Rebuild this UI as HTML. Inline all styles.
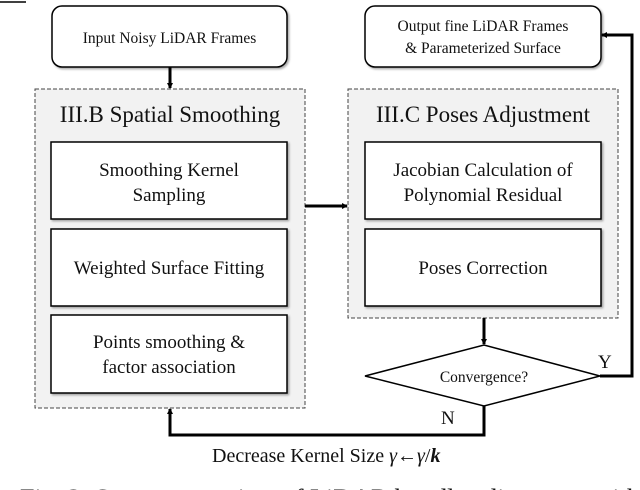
<!DOCTYPE html>
<html><head><style>
html,body{margin:0;padding:0;background:#fff;overflow:hidden;}
svg{display:block;}
text{font-family:"Liberation Serif",serif;fill:#111;}
</style></head><body>
<svg width="640" height="490" viewBox="0 0 640 490" xmlns="http://www.w3.org/2000/svg">
<defs>
<marker id="a" markerWidth="6" markerHeight="6" refX="5" refY="3" orient="auto" markerUnits="userSpaceOnUse"><path d="M0,0 L6,3 L0,6 z" fill="#000"/></marker>
<filter id="s" x="-5%" y="-5%" width="110%" height="115%"><feDropShadow dx="1.5" dy="1.5" stdDeviation="1" flood-opacity="0.35"/></filter>
</defs>
<line x1="0" y1="2" x2="26" y2="2" stroke="#000" stroke-width="1.5"/>
<rect x="52" y="6" width="235" height="61" rx="10" fill="#fff" stroke="#000" stroke-width="1.5" filter="url(#s)"/>
<text x="169.5" y="43" font-size="15.5" text-anchor="middle">Input Noisy LiDAR Frames</text>
<line x1="170" y1="67" x2="170" y2="88" stroke="#000" stroke-width="3" marker-end="url(#a)"/>
<rect x="365" y="6" width="236" height="61" rx="10" fill="#fff" stroke="#000" stroke-width="1.5" filter="url(#s)"/>
<text x="483" y="31" font-size="15.5" text-anchor="middle">Output fine LiDAR Frames</text>
<text x="483" y="53" font-size="15.5" text-anchor="middle">&amp; Parameterized Surface</text>
<rect x="35" y="89" width="270" height="319" fill="#f2f2f2" stroke="#444" stroke-width="1" stroke-dasharray="4,2"/>
<text x="170" y="122" font-size="23" text-anchor="middle">III.B Spatial Smoothing</text>
<g fill="#fff" stroke="#000" stroke-width="1.5" filter="url(#s)">
<rect x="51" y="142" width="236" height="77"/>
<rect x="51" y="229" width="236" height="77"/>
<rect x="51" y="315" width="236" height="78"/>
</g>
<g font-size="19" text-anchor="middle">
<text x="169" y="176">Smoothing Kernel</text>
<text x="169" y="201">Sampling</text>
<text x="169" y="274">Weighted Surface Fitting</text>
<text x="169" y="348">Points smoothing &amp;</text>
<text x="169" y="373">factor association</text>
</g>
<rect x="348" y="89" width="270" height="229" fill="#f2f2f2" stroke="#444" stroke-width="1" stroke-dasharray="4,2"/>
<text x="483" y="122" font-size="23" text-anchor="middle">III.C Poses Adjustment</text>
<g fill="#fff" stroke="#000" stroke-width="1.5" filter="url(#s)">
<rect x="365" y="142" width="236" height="77"/>
<rect x="365" y="229" width="236" height="77"/>
</g>
<g font-size="19" text-anchor="middle">
<text x="483" y="176">Jacobian Calculation of</text>
<text x="483" y="201">Polynomial Residual</text>
<text x="483" y="274">Poses Correction</text>
</g>
<line x1="305" y1="206" x2="347" y2="206" stroke="#000" stroke-width="3" marker-end="url(#a)"/>
<line x1="484" y1="318" x2="484" y2="344" stroke="#000" stroke-width="3" marker-end="url(#a)"/>
<polygon points="365,376 484,345 600,376 484,406" fill="#fff" stroke="#000" stroke-width="1.5"/>
<text x="484" y="382" font-size="15.5" text-anchor="middle">Convergence?</text>
<polyline points="600,376 632,376 632,35 602,35" fill="none" stroke="#000" stroke-width="3" marker-end="url(#a)"/>
<text x="598" y="368" font-size="19">Y</text>
<polyline points="484,406 484,435 170,435 170,409" fill="none" stroke="#000" stroke-width="3" marker-end="url(#a)"/>
<text x="441" y="424" font-size="19">N</text>
<text x="212" y="462" font-size="20">Decrease Kernel Size <tspan font-style="italic">γ</tspan>←<tspan font-style="italic">γ</tspan>/<tspan font-style="italic" font-weight="bold">k</tspan></text>
<text x="20" y="507" font-size="26" textLength="620" lengthAdjust="spacingAndGlyphs">Fig. 2: System overview of LiDAR bundle adjustment with</text>
</svg>
</body></html>
